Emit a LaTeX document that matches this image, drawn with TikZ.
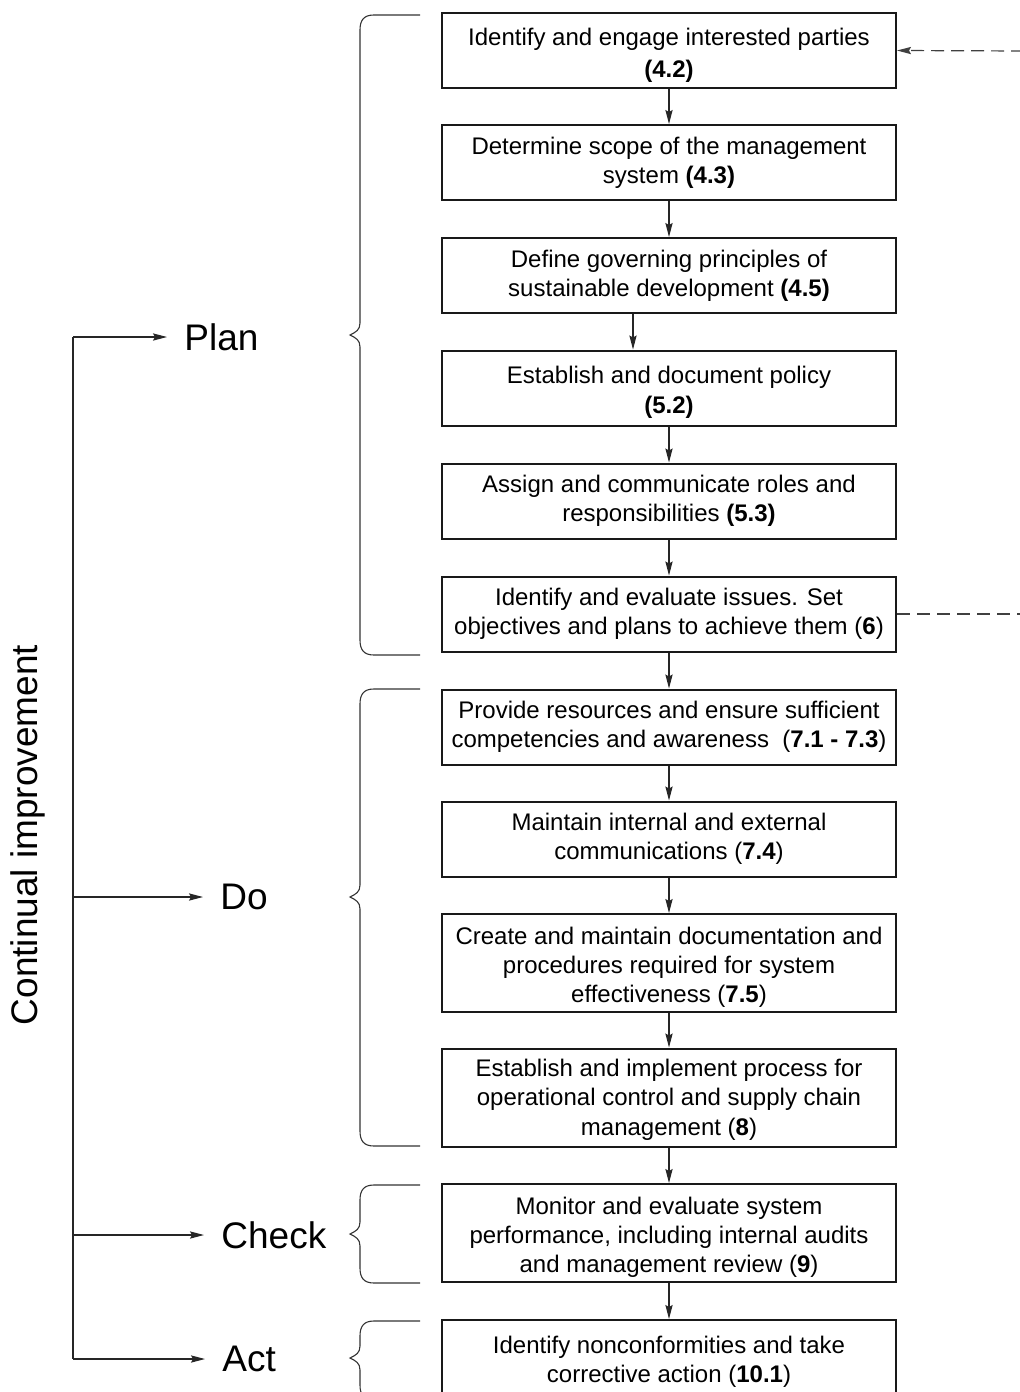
\documentclass[tikz,border=0pt]{standalone}
\usepackage{fontspec}
\setmainfont{Liberation Sans}
\usetikzlibrary{arrows.meta}
\newcommand{\lowr}[1]{\rule{0pt}{#1}}

\begin{document}
\begin{tikzpicture}[x=0.5pt,y=-0.5pt,
  stepbox/.style={draw=black!90,line width=1pt,minimum width=227pt,minimum height=37.5pt,
    inner sep=0pt,align=center,font=\fontsize{12}{14.6}\selectfont},
  tallbox/.style={stepbox,minimum height=49pt},
  flow/.style={draw=black!85,line width=0.6pt,-{Stealth[length=7pt,width=3.6pt,inset=1pt]}},
  phase/.style={anchor=west,inner sep=0pt,inner xsep=8.5pt,font=\fontsize{18.5}{22}\selectfont},
  brc/.style={draw=black!80,line width=0.55pt},
  fb/.style={draw=black!75,line width=0.6pt,dash pattern=on 6.5pt off 3.5pt}]
\useasboundingbox (0,0) rectangle (1020,1392);
\newcommand{\phasebrace}[3]{%
\draw[brc] (420,#1) -- (374,#1) .. controls (364,#1) and (360,{#1+5}) .. (360,{#1+15})
 -- (360,{#3-12}) .. controls (360,{#3-5}) and (356,{#3-3}) .. (350,#3)
 .. controls (356,{#3+3}) and (360,{#3+5}) .. (360,{#3+12})
 -- (360,{#2-15}) .. controls (360,{#2-5}) and (364,#2) .. (374,#2) -- (420,#2);}
% steps
\node[stepbox] (b1) at (669,50.5) {\lowr{13.3pt}Identify and engage interested parties\\[1.5pt] \textbf{(4.2)}};
\node[stepbox] (b2) at (669,162.5) {Determine scope of the management\\ system \textbf{(4.3)}};
\node[stepbox] (b3) at (669,275.5) {Define governing principles of\\ sustainable development \textbf{(4.5)}};
\node[stepbox] (b4) at (669,388) {\lowr{13pt}Establish and document policy\\ \textbf{(5.2)}};
\node[stepbox] (b5) at (669,501) {Assign and communicate roles and\\ responsibilities \textbf{(5.3)}};
\node[stepbox] (b6) at (669,614) {Identify and evaluate issues. Set\\ objectives and plans to achieve them (\textbf{6})};
\node[stepbox] (b7) at (669,727) {Provide resources and ensure sufficient\\ competencies and awareness~ (\textbf{7.1 - 7.3})};
\node[stepbox] (b8) at (669,839) {Maintain internal and external\\ communications (\textbf{7.4})};
\node[tallbox] (b9) at (669,963) {\lowr{13pt}Create and maintain documentation and\\ procedures required for system\\ effectiveness (\textbf{7.5})};
\node[tallbox] (b10) at (669,1097.5) {\lowr{10.8pt}Establish and implement process for\\ operational control and supply chain\\ management (\textbf{8})};
\node[tallbox] (b11) at (669,1233) {\lowr{12.8pt}Monitor and evaluate system\\ performance, including internal audits\\ and management review (\textbf{9})};
\node[stepbox] (b12) at (669,1357.5) {\lowr{12.8pt}Identify nonconformities and take\\ corrective action (\textbf{10.1})};
\foreach \a/\b in {b1/b2,b2/b3,b4/b5,b5/b6,b6/b7,b7/b8,b8/b9,b9/b10,b10/b11,b11/b12}
  \draw[flow] (\a) -- (\b);
\coordinate (off) at (633,0);
\draw[flow] (b3.south -| off) -- (b4.north -| off);
% feedback
\coordinate (fbin) at (1024,51);
\coordinate (fbout) at (1024,614);
\draw[fb,-{Stealth[length=7pt,width=3.6pt,inset=1pt]}] (fbin) -- (b1.east);
\draw[fb] (b6.east) -- (fbout);
% braces
\phasebrace{15}{655}{335}
\phasebrace{689}{1146}{897}
\phasebrace{1185}{1283}{1234}
\phasebrace{1321}{1400}{1358}
% PDCA
\node[phase] (lPlan) at (167,337) {Plan};
\node[phase] (lDo) at (203,897) {Do};
\node[phase] (lCheck) at (204,1235) {Check};
\node[phase] (lAct) at (205,1359) {Act};
\coordinate (sPlan) at (73,337);
\coordinate (sDo) at (73,897);
\coordinate (sCheck) at (73,1235);
\coordinate (sAct) at (73,1359);
\draw[brc,draw=black!85] (sPlan) -- (sAct);
\foreach \s in {Plan,Do,Check,Act}
  \draw[flow] (s\s) -- (l\s.west);
\node[rotate=90,font=\fontsize{18.5}{22}\selectfont] (cont) at (28,835) {Continual improvement};
%\draw[red] (0,0) grid[step=100] (1020,1392);
\end{tikzpicture}
\end{document}
